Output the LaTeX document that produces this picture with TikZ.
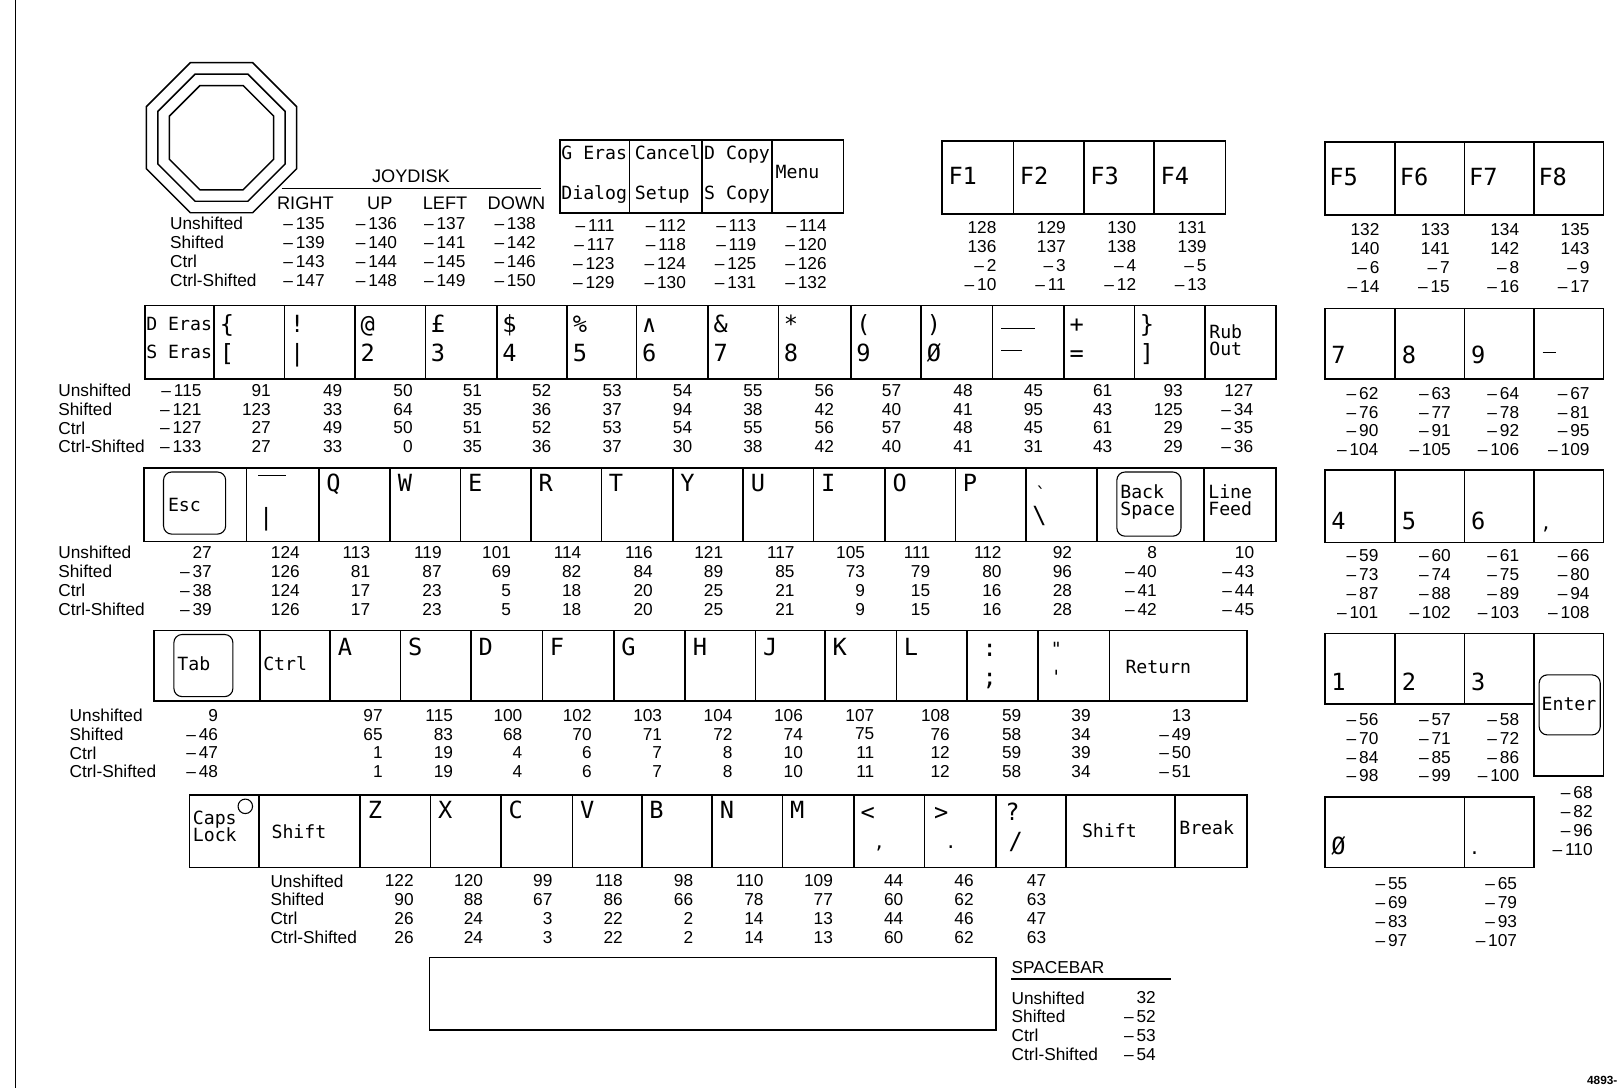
\documentclass[tikz,border=0pt]{standalone}
\usepackage{fontspec}
\setmainfont{Liberation Sans}
\newfontfamily\plotfont{DejaVu Sans Mono}
\newcommand\mi{\textendash\,}
% one block of code values: name, first row y, list of x/unsh/sh/ctrl/ctrlsh
\newcommand\codecols[3]{%
  \foreach \x/\a/\b/\c/\d [count=\k] in {#3} {
    \foreach \v [count=\r] in {\a,\b,\c,\d}
      \node[val] (#1\k-\r) at (\x, {#2+(\r-1)*18.2}) {\v};
  }}
\newcommand\rowlabels[3]{%
  \foreach \t [count=\r] in {Unshifted,Shifted,Ctrl,Ctrl-Shifted}
    \node[rowlbl] (#1lbl\r) at (#2, {#3+(\r-1)*18.2}) {\t};}

\begin{document}
\begin{tikzpicture}[x=0.02cm, y=-0.02cm,
  keybox/.style={draw, line width=0.9pt},
  capkey/.style={draw, line width=0.6pt, rounded corners=4.5pt},
  lbl/.style={font=\plotfont\fontsize{10}{10}\selectfont, anchor=base west, inner sep=0pt},
  big/.style={font=\plotfont\fontsize{13}{13}\selectfont, anchor=base west, inner sep=0pt},
  val/.style={font=\fontsize{9.5}{10}\selectfont, anchor=east, inner sep=0pt},
  rowlbl/.style={font=\fontsize{9.5}{10}\selectfont, anchor=west, inner sep=0pt},
  head/.style={font=\fontsize{10}{10}\selectfont, inner sep=0pt}
]
\useasboundingbox (0,0) rectangle (1568,1051);
\draw[line width=0.4pt] (15,0) -- (15,1051);

% Joydisk (top left): three nested octagons and its code table
\foreach \R in {78.5,66.5,54.5}
  \draw[line width=0.8pt, shift={(214,133)}]
    (22.5:\R) -- (67.5:\R) -- (112.5:\R) -- (157.5:\R) -- (202.5:\R)
    -- (247.5:\R) -- (292.5:\R) -- (337.5:\R) -- cycle;
\node[head] (joytitle) at (397,170) {JOYDISK};
\draw[line width=0.8pt] (272,182) -- (523,182);
\foreach \h/\x in {RIGHT/295,UP/367,LEFT/430,DOWN/499}
  \node[head] (joy\h) at (\x,196) {\h};
\rowlabels{joy}{164}{216}
\codecols{joy}{216}{314/\mi135/\mi139/\mi143/\mi147, 384/\mi136/\mi140/\mi144/\mi148,
  450/\mi137/\mi141/\mi145/\mi149, 518/\mi138/\mi142/\mi146/\mi150}

% Dialog / Setup / Copy / Menu keys
\foreach \xa/\xb in {541/608,608/678,678/746,746/815}
  \draw[keybox] (\xa,135) rectangle (\xb,206);
\foreach \xa/\up/\dn [count=\k] in {542/G Eras/Dialog, 613/Cancel/Setup, 680/D Copy/S Copy} {
  \node[lbl] (fn\k-u) at (\xa,154) {\up};
  \node[lbl] (fn\k-d) at (\xa,193) {\dn};
}
\node[lbl] (menu) at (749,172) {Menu};
\codecols{fn}{218}{594/\mi111/\mi117/\mi123/\mi129, 663/\mi112/\mi118/\mi124/\mi130,
  731/\mi113/\mi119/\mi125/\mi131, 799/\mi114/\mi120/\mi126/\mi132}

% F1..F4 and F5..F8
\foreach \xa/\xb/\t in {910/979/F1,979/1047/F2,1047/1115/F3,1115/1184/F4} {
  \draw[keybox] (\xa,136) rectangle (\xb,207);
  \node[big] (key\t) at (\xa+6,178) {\t};
}
\foreach \xa/\xb/\t in {1280/1348/F5,1348/1415/F6,1415/1482/F7,1482/1549/F8} {
  \draw[keybox] (\xa,137) rectangle (\xb,208);
  \node[big] (key\t) at (\xa+4,179) {\t};
}
\codecols{fa}{220}{963/128/136/\mi2/\mi10, 1030/129/137/\mi3/\mi11,
  1098/130/138/\mi4/\mi12, 1166/131/139/\mi5/\mi13}
\codecols{fb}{222}{1333/132/140/\mi6/\mi14, 1401/133/141/\mi7/\mi15,
  1468/134/142/\mi8/\mi16, 1536/135/143/\mi9/\mi17}

% Number row
\foreach \xa/\xb in {140/207,207/275,275/343,343/411,411/480,480/548,548/615,615/684,
  684/752,752/822,822/890,890/959,959/1028,1028/1096,1096/1164,1164/1233}
  \draw[keybox] (\xa,295) rectangle (\xb,366);
\node[lbl] (deras) at (141,319) {D Eras};
\node[lbl] (seras) at (141,346) {S Eras};
\foreach \xa/\up/\dn [count=\k] in {207/\{/[, 275/!/|, 343/@/2, 411/£/3, 480/\$/4,
  548/\%/5, 615/∧/6, 684/\&/7, 752/*/8, 822/(/9, 890/)/Ø, 1028/+/=, 1096/\}/]} {
  \node[big] (nk\k-u) at (\xa+5,321) {\up};
  \node[big] (nk\k-d) at (\xa+5,349) {\dn};
}
\node[big] (under) at (967,318) {\rule{18.8pt}{0.7pt}};
\node[big] (minus) at (967,339) {\rule{11.4pt}{0.7pt}};
\node[lbl] (rub) at (1168,327) {Rub};
\node[lbl] (out) at (1168,343) {Out};
\rowlabels{nr}{56}{377}
\codecols{nr}{377}{195/\mi115/\mi121/\mi127/\mi133, 262/91/123/27/27, 331/49/33/49/33,
  399/50/64/50/0, 466/51/35/51/35, 533/52/36/52/36, 601/53/37/53/37, 669/54/94/54/30,
  737/55/38/55/38, 806/56/42/56/42, 871/57/40/57/40, 940/48/41/48/41, 1008/45/95/45/31,
  1075/61/43/61/43, 1143/93/125/29/29, 1211/127/\mi34/\mi35/\mi36}

% Q row
\foreach \xa/\xb in {139/238,238/308,308/377,377/445,445/513,513/581,581/650,650/718,
  718/786,786/855,855/923,923/991,991/1060,1060/1163,1163/1233}
  \draw[keybox] (\xa,452) rectangle (\xb,523);
\draw[capkey] (158,456) rectangle (218,516);
\node[lbl] (esc) at (162,494) {Esc};
\node[big] (tilde) at (249,460) {\rule{15.3pt}{0.7pt}};
\node[big] (bar) at (250,508) {|};
\foreach \xa/\t in {308/Q,377/W,445/E,513/R,581/T,650/Y,718/U,786/I,855/O,923/P}
  \node[big] (key\t) at (\xa+7,475) {\t};
\node[lbl] (grave) at (1000,484) {`};
\node[big] (bslash) at (997,506) {\textbackslash};
\draw[capkey] (1079,456) rectangle (1141,518);
\node[lbl] (back) at (1082,482) {Back};
\node[lbl] (space) at (1082,498) {Space};
\node[lbl] (line) at (1167,482) {Line};
\node[lbl] (feed) at (1167,498) {Feed};
\rowlabels{qr}{56}{534}
\codecols{qr}{534}{205/27/\mi37/\mi38/\mi39, 290/124/126/124/126, 358/113/81/17/17,
  427/119/87/23/23, 494/101/69/5/5, 562/114/82/18/18, 631/116/84/20/20, 699/121/89/25/25,
  768/117/85/21/21, 836/105/73/9/9, 899/111/79/15/15, 968/112/80/16/16, 1036/92/96/28/28,
  1118/8/\mi40/\mi41/\mi42, 1212/10/\mi43/\mi44/\mi45}

% A row
\foreach \xa/\xb in {149/251,251/319,319/387,387/455,455/524,524/593,593/662,662/730,
  730/797,797/866,866/934,934/1003,1003/1072,1072/1205}
  \draw[keybox] (\xa,609) rectangle (\xb,677);
\draw[capkey] (168,613) rectangle (225,673);
\node[lbl] (tab) at (171,648) {Tab};
\node[lbl] (ctrl) at (254,648) {Ctrl};
\foreach \xa/\t in {319/A,387/S,455/D,524/F,593/G,662/H,730/J,797/K,866/L}
  \node[big] (key\t) at (\xa+7,633) {\t};
\node[big] (colon) at (949,634) {:};
\node[big] (semi) at (949,662) {;};
\node[lbl] (dquote) at (1015,633) {"};
\node[lbl] (quote) at (1015,660) {'};
\node[lbl] (return) at (1087,651) {Return};
\rowlabels{ar}{67}{691}
\codecols{ar}{691}{211/9/\mi46/\mi47/\mi48, 370/97/65/1/1, 438/115/83/19/19,
  505/100/68/4/4, 572/102/70/6/6, 640/103/71/7/7, 708/104/72/8/8, 776/106/74/10/10,
  845/107/75/11/11, 918/108/76/12/12, 987/59/58/59/58, 1054/39/34/39/34,
  1151/13/\mi49/\mi50/\mi51}

% Z row
\foreach \xa/\xb in {183/250,250/348,348/416,416/484,484/553,553/620,620/688,688/756,
  756/825,825/893,893/962,962/1030,1030/1135,1135/1205}
  \draw[keybox] (\xa,768) rectangle (\xb,838);
\node[lbl] (caps) at (186,797) {Caps};
\node[lbl] (lock) at (186,813) {Lock};
\draw[line width=0.6pt] (237,779) circle (7);
\node[lbl] (lshift) at (262,810) {Shift};
\foreach \xa/\t in {348/Z,416/X,484/C,553/V,620/B,688/N,756/M}
  \node[big] (key\t) at (\xa+7,791) {\t};
\node[big] (less) at (831,793) {<};
\node[lbl] (comma) at (844,820) {,};
\node[big] (greater) at (902,793) {>};
\node[lbl] (period) at (913,820) {.};
\node[big] (quest) at (971,793) {?};
\node[big] (slash) at (974,821) {/};
\node[lbl] (rshift) at (1045,809) {Shift};
\node[lbl] (break) at (1139,806) {Break};
\rowlabels{zr}{261}{851}
\codecols{zr}{851}{400/122/90/26/26, 467/120/88/24/24, 534/99/67/3/3, 602/118/86/22/22,
  670/98/66/2/2, 738/110/78/14/14, 805/109/77/13/13, 873/44/60/44/60, 941/46/62/46/62,
  1011/47/63/47/63}

% Space bar
\draw[keybox] (415,925) rectangle (962,995);
\node[rowlbl] (spacetitle) at (977,935) {SPACEBAR};
\draw[line width=0.8pt] (977,946) -- (1131,946);
\rowlabels{sp}{977}{964}
\codecols{sp}{964}{1117/32/\mi52/\mi53/\mi54}

% Numeric pad
\foreach \xa/\xb/\t in {1280/1348/7,1348/1415/8,1415/1482/9} {
  \draw[keybox] (\xa,298) rectangle (\xb,366);
  \node[big] (pad\t) at (\xa+6,351) {\t};
}
\draw[keybox] (1482,298) rectangle (1549,366);
\node[big] (padminus) at (1490,341) {\rule{7.5pt}{0.7pt}};
\foreach \xa/\xb/\t in {1280/1348/4,1348/1415/5,1415/1482/6} {
  \draw[keybox] (\xa,454) rectangle (\xb,524);
  \node[big] (pad\t) at (\xa+6,512) {\t};
}
\draw[keybox] (1482,454) rectangle (1549,524);
\node[lbl] (padcomma) at (1488,512) {,};
\foreach \xa/\xb/\t in {1280/1348/1,1348/1415/2,1415/1482/3} {
  \draw[keybox] (\xa,612) rectangle (\xb,680);
  \node[big] (pad\t) at (\xa+6,667) {\t};
}
\draw[keybox] (1482,612) rectangle (1549,750);
\draw[capkey] (1487,652) rectangle (1546,710);
\node[lbl] (enter) at (1489,686) {Enter};
\draw[keybox] (1280,770) rectangle (1415,838);
\node[big] (pad0) at (1286,826) {Ø};
\draw[keybox] (1415,770) rectangle (1482,838);
\node[lbl] (paddot) at (1419,826) {.};
\codecols{pa}{380}{1332/\mi62/\mi76/\mi90/\mi104, 1402/\mi63/\mi77/\mi91/\mi105,
  1468/\mi64/\mi78/\mi92/\mi106, 1536/\mi67/\mi81/\mi95/\mi109}
\codecols{pb}{537}{1332/\mi59/\mi73/\mi87/\mi101, 1402/\mi60/\mi74/\mi88/\mi102,
  1468/\mi61/\mi75/\mi89/\mi103, 1536/\mi66/\mi80/\mi94/\mi108}
\codecols{pc}{695}{1332/\mi56/\mi70/\mi84/\mi98, 1402/\mi57/\mi71/\mi85/\mi99,
  1468/\mi58/\mi72/\mi86/\mi100}
\codecols{pd}{766}{1539/\mi68/\mi82/\mi96/\mi110}
\codecols{pe}{854}{1360/\mi55/\mi69/\mi83/\mi97, 1466/\mi65/\mi79/\mi93/\mi107}

\node[font=\fontsize{6.5}{6.5}\selectfont\bfseries, anchor=west, inner sep=0pt] (fig) at (1533,1044) {4893-};
\end{tikzpicture}
\end{document}
